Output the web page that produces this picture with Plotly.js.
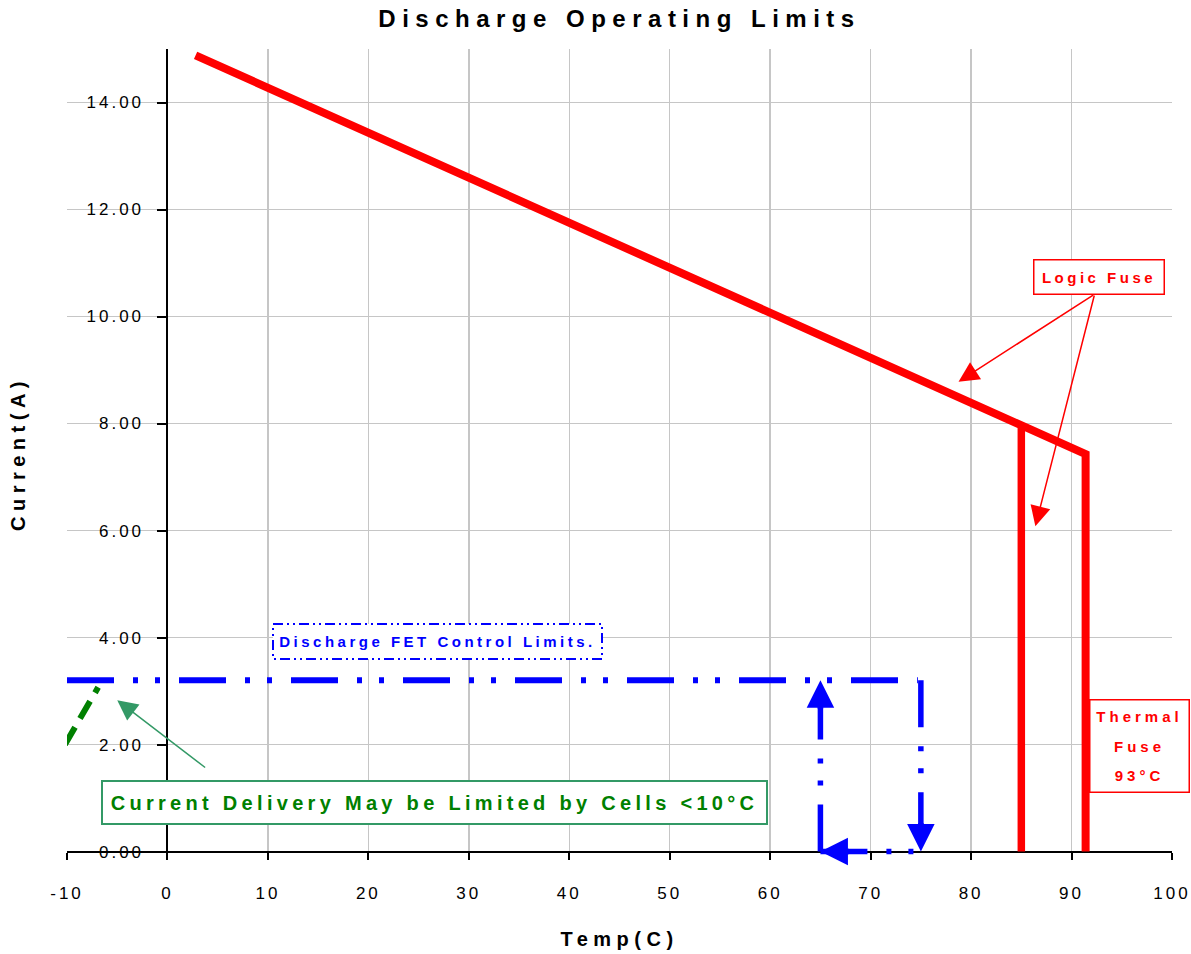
<!DOCTYPE html>
<html>
<head>
<meta charset="utf-8">
<script src="https://cdn.plot.ly/plotly-3.0.1.min.js"></script>
<style>
  html, body { margin: 0; padding: 0; background: #ffffff; }
  #chart { width: 1191px; height: 954px; }
  .xtick text, .ytick text { letter-spacing: 3px; }
  .gtitle { letter-spacing: 6.5px; }
  .xtitle, .ytitle { letter-spacing: 5.5px; }
  text.annotation-text { letter-spacing: 3.5px; }
  .annotation[data-index="0"] text.annotation-text { letter-spacing: 4.3px; }
  .annotation[data-index="3"] text.annotation-text { letter-spacing: 4px; }
  .annotation[data-index="1"] rect.bg { stroke-dasharray: 10px, 4px, 2px, 4px, 2px, 4px; }
</style>
</head>
<body>
<div id="chart"></div>
<script>
// ---- data ----
const chartTitle = 'Discharge Operating Limits';
const xTitle = 'Temp(C)';
const yTitle = 'Current(A)';

const xTickVals = [-10, 0, 10, 20, 30, 40, 50, 60, 70, 80, 90, 100];
const xTickText = ['-10', '0', '10', '20', '30', '40', '50', '60', '70', '80', '90', '100'];
const yTickVals = [0, 2, 4, 6, 8, 10, 12, 14];
const yTickText = ['0.00', '2.00', '4.00', '6.00', '8.00', '10.00', '12.00', '14.00'];

// red limit line: slope then drop at thermal fuse
const logicFuseTemp = [2.8, 91.4, 91.4];
const logicFuseCurrent = [14.88, 7.43, 0];
// red drop at 85 C
const logicDropTemp = [85, 85];
const logicDropCurrent = [7.95, 0];

// blue discharge FET control limit (dash-dot)
const fetTemp = [-10, 74.7];
const fetCurrent = [3.2, 3.2];
// blue hysteresis loop: down at 75, back along 0, up at 65
const fetDownTemp = [75, 75];
const fetDownCurrent = [3.2, 0];
const fetBackTemp = [65, 75];
const fetBackCurrent = [0, 0];
const fetUpTemp = [65, 65];
const fetUpCurrent = [0, 3.2];

// green dashed low-temperature cell limit
const cellTemp = [-10.2, -6.9];
const cellCurrent = [2.0, 3.07];

const fontFam = '"Liberation Sans", Arial, Helvetica, sans-serif';
const blueDash = '47px,19px,5px,17px,5px,19px';

function seg(x, y, color, width, dash) {
  return {
    type: 'scatter', mode: 'lines', x: x, y: y,
    line: {color: color, width: width, dash: dash || 'solid'},
    hoverinfo: 'skip', showlegend: false
  };
}

const traces = [
  seg(fetTemp, fetCurrent, '#0000ff', 6, blueDash),
  seg(fetDownTemp, fetDownCurrent, '#0000ff', 5.5, blueDash),
  seg(fetBackTemp, fetBackCurrent, '#0000ff', 5.5, blueDash),
  seg(fetUpTemp, fetUpCurrent, '#0000ff', 5.5, blueDash),
  seg(cellTemp, cellCurrent, '#008000', 6, '20px,10px'),
  seg(logicFuseTemp, logicFuseCurrent, '#ff0000', 8),
  seg(logicDropTemp, logicDropCurrent, '#ff0000', 7.5)
];

const annotations = [
  { // 0 green note
    x: 26.63, y: 0.91, xref: 'x', yref: 'y', showarrow: false,
    text: 'Current Delivery May be Limited by Cells <10°C',
    font: {family: fontFam, size: 20, color: '#008000', weight: 'bold'},
    bordercolor: '#339966', borderwidth: 2, borderpad: 1, bgcolor: '#ffffff',
    width: 661, height: 39, xanchor: 'center', yanchor: 'middle'
  },
  { // 1 blue note
    x: 26.93, y: 3.92, xref: 'x', yref: 'y', showarrow: false,
    text: 'Discharge FET Control Limits.',
    font: {family: fontFam, size: 15, color: '#0000ff', weight: 'bold'},
    bordercolor: '#0000ff', borderwidth: 2, borderpad: 1, bgcolor: '#ffffff',
    width: 325, height: 31, xanchor: 'center', yanchor: 'middle'
  },
  { // 2 logic fuse
    x: 92.78, y: 10.74, xref: 'x', yref: 'y', showarrow: false,
    text: 'Logic Fuse',
    font: {family: fontFam, size: 15, color: '#ff0000', weight: 'bold'},
    bordercolor: '#ff0000', borderwidth: 1.5, borderpad: 1, bgcolor: '#ffffff',
    width: 127, height: 31, xanchor: 'center', yanchor: 'middle'
  },
  { // 3 thermal fuse
    x: 96.81, y: 1.965, xref: 'x', yref: 'y', showarrow: false,
    text: '<span style="font-size:15px">Thermal</span><br><span style="font-size:15px">Fuse</span><br><span style="font-size:15px">93°C</span>',
    font: {family: fontFam, size: 22.5, color: '#ff0000', weight: 'bold'},
    bordercolor: '#ff0000', borderwidth: 1.5, borderpad: 1, bgcolor: '#ffffff',
    width: 96, height: 89, xanchor: 'center', yanchor: 'middle'
  },
  // logic fuse arrows
  { x: 78.75, y: 8.78, xref: 'x', yref: 'y', ax: 92.3, ay: 10.42, axref: 'x', ayref: 'y',
    text: '', showarrow: true, arrowhead: 2, arrowsize: 2.7, arrowwidth: 1.5, arrowcolor: '#ff0000', standoff: 0 },
  { x: 86.4, y: 6.08, xref: 'x', yref: 'y', ax: 92.3, ay: 10.42, axref: 'x', ayref: 'y',
    text: '', showarrow: true, arrowhead: 2, arrowsize: 2.7, arrowwidth: 1.5, arrowcolor: '#ff0000', standoff: 0 },
  // green arrow
  { x: -5.0, y: 2.83, xref: 'x', yref: 'y', ax: 3.9, ay: 1.55, axref: 'x', ayref: 'y',
    text: '', showarrow: true, arrowhead: 2, arrowsize: 2.7, arrowwidth: 1.5, arrowcolor: '#339966', standoff: 0 },
  // blue loop arrowheads
  { x: fetDownTemp[1], y: fetDownCurrent[1], xref: 'x', yref: 'y', ax: 0, ay: -30,
    text: '', showarrow: true, arrowhead: 2, arrowsize: 1, arrowwidth: 5.5, arrowcolor: '#0000ff', standoff: 0 },
  { x: fetBackTemp[0], y: fetBackCurrent[0], xref: 'x', yref: 'y', ax: 30, ay: 0,
    text: '', showarrow: true, arrowhead: 2, arrowsize: 1, arrowwidth: 5.5, arrowcolor: '#0000ff', standoff: 0 },
  { x: fetUpTemp[1], y: fetUpCurrent[1], xref: 'x', yref: 'y', ax: 0, ay: 30,
    text: '', showarrow: true, arrowhead: 2, arrowsize: 1, arrowwidth: 5.5, arrowcolor: '#0000ff', standoff: 0 }
];

const yBottom = -0.12;
const layout = {
  width: 1191, height: 954,
  margin: {l: 67, r: 19, t: 49, b: 96, pad: 0},
  paper_bgcolor: '#ffffff', plot_bgcolor: '#ffffff',
  showlegend: false,
  title: {
    text: chartTitle, x: 0.5, xref: 'paper', y: 0.981, yref: 'container', yanchor: 'middle',
    font: {family: fontFam, size: 24, color: '#000000', weight: 'bold'}
  },
  xaxis: {
    range: [-10, 100], domain: [0, 1], anchor: 'free', position: -yBottom / (15 - yBottom),
    tickmode: 'array', tickvals: xTickVals, ticktext: xTickText,
    showgrid: true, gridcolor: '#c6c6c6', gridwidth: 1.5,
    zeroline: false, showline: true, linecolor: '#000000', linewidth: 2,
    ticks: 'outside', ticklen: 7, tickwidth: 2, tickcolor: '#000000',
    ticklabelstandoff: 19, ticklabeloverflow: 'allow',
    tickfont: {family: fontFam, size: 17, color: '#000000'},
    layer: 'below traces',
    title: {text: xTitle, standoff: 29, font: {family: fontFam, size: 20, color: '#000000', weight: 'bold'}}
  },
  yaxis: {
    range: [yBottom, 15], domain: [0, 1], anchor: 'free', position: 10 / 110,
    tickmode: 'array', tickvals: yTickVals, ticktext: yTickText,
    showgrid: true, gridcolor: '#c6c6c6', gridwidth: 1.5,
    zeroline: false, showline: true, linecolor: '#000000', linewidth: 2,
    ticks: 'outside', ticklen: 9, tickwidth: 2, tickcolor: '#000000',
    ticklabelstandoff: 10, ticklabeloverflow: 'allow',
    tickfont: {family: fontFam, size: 17, color: '#000000'},
    layer: 'below traces',
    title: {text: yTitle, standoff: 55, font: {family: fontFam, size: 20, color: '#000000', weight: 'bold'}}
  },
  annotations: annotations
};

Plotly.newPlot('chart', traces, layout, {displayModeBar: false, staticPlot: true});
</script>
</body>
</html>
